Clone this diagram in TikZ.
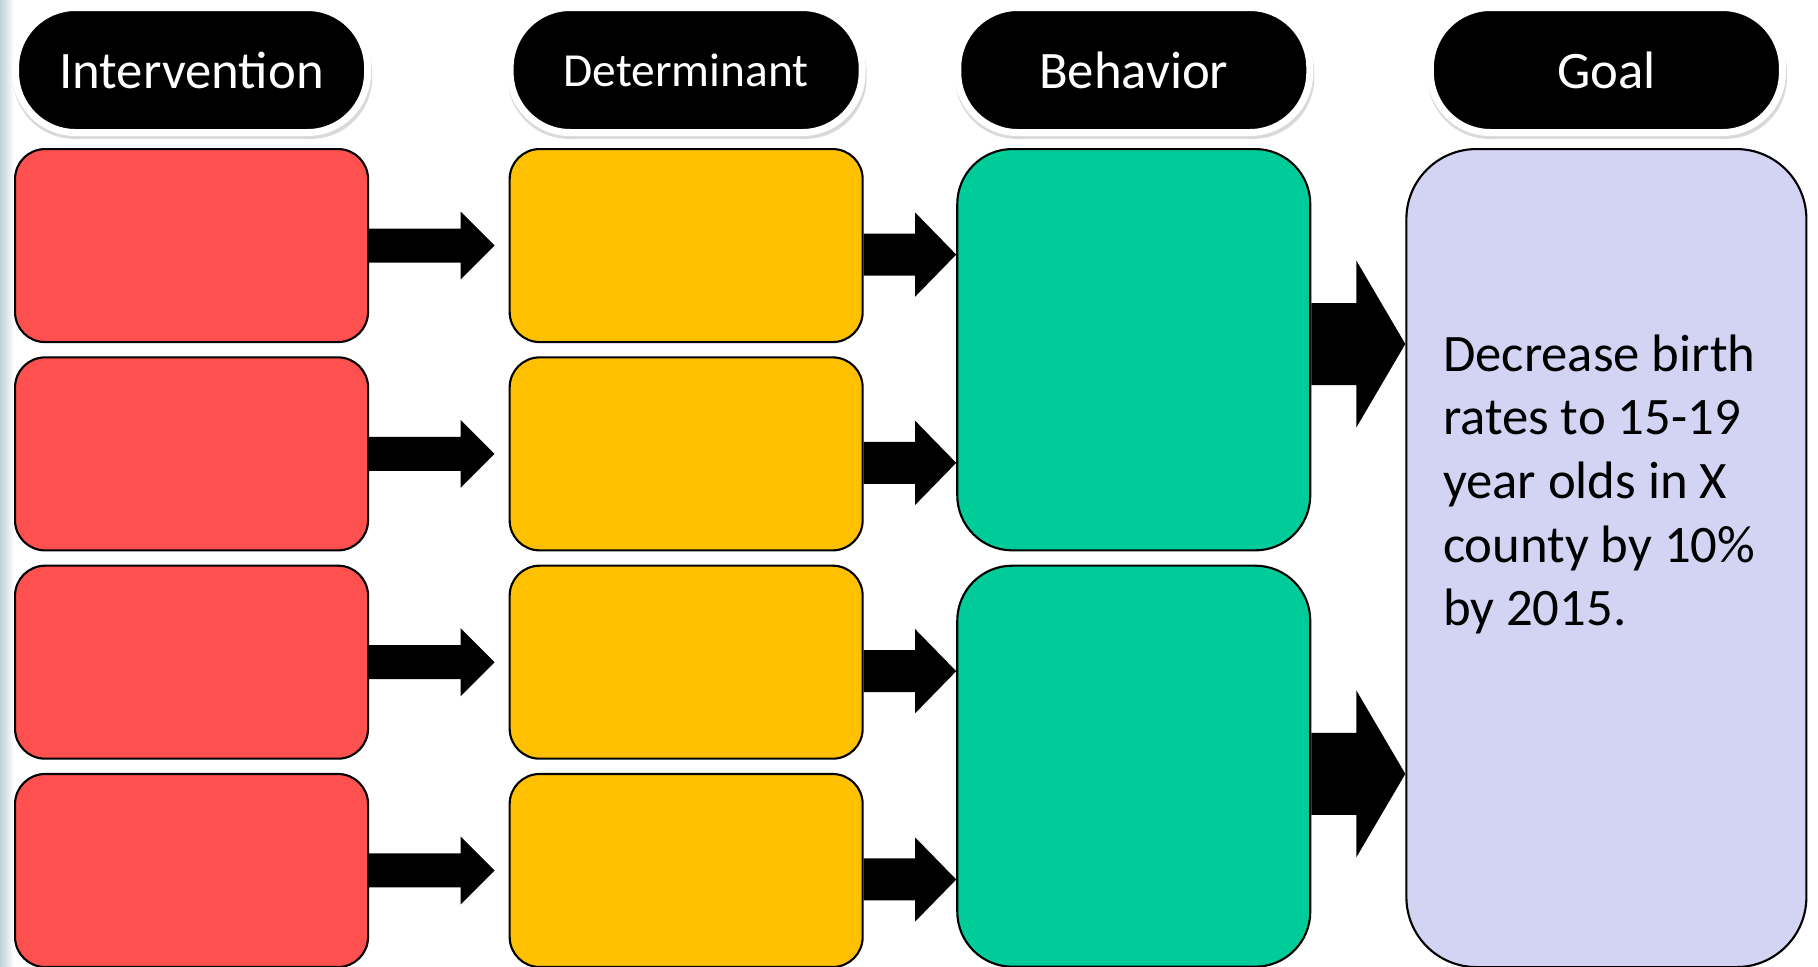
\documentclass[tikz,border=0pt]{standalone}
\usepackage{fontspec}
\setmainfont{Carlito}
\usepackage{tikz}
\usetikzlibrary{positioning,calc,shadows}
\definecolor{intred}{RGB}{255,80,80}
\definecolor{detyellow}{RGB}{255,192,0}
\definecolor{behgreen}{RGB}{0,204,153}
\definecolor{goallav}{RGB}{211,211,243}
\definecolor{slideblue}{RGB}{188,208,216}

% fat block arrow: from, to, yshift, shaft half, head half, head length, gap
\newcommand{\fatarrow}[7]{%
  \fill let \p1=(#1.east), \p2=(#2.west) in
    ({\x1},{\y1+#3+#4}) -- ({\x2-#7-#6},{\y1+#3+#4}) -- ({\x2-#7-#6},{\y1+#3+#5})
    -- ({\x2-#7},{\y1+#3}) -- ({\x2-#7-#6},{\y1+#3-#5}) -- ({\x2-#7-#6},{\y1+#3-#4})
    -- ({\x1},{\y1+#3-#4}) -- cycle;}

\begin{document}
\begin{tikzpicture}[
    headpill/.style={rectangle, rounded corners=0.6cm, fill=black, draw=white, line width=0.07cm, minimum width=3.52cm, minimum height=1.25cm, text=white, font=\fontsize{15}{18}\selectfont, drop shadow={shadow xshift=0.01cm, shadow yshift=-0.05cm, shadow scale=1.02, opacity=0.3}},
    smallbox/.style={rectangle, rounded corners=0.3cm, draw=black, line width=0.6pt, minimum width=3.53cm, minimum height=1.93cm},
    intbox/.style={smallbox, fill=intred},
    detbox/.style={smallbox, fill=detyellow},
    behbox/.style={rectangle, rounded corners=0.55cm, draw=black, line width=0.6pt, fill=behgreen, minimum width=3.53cm, anchor=north west},
    goalbox/.style={rectangle, rounded corners=0.7cm, draw=black, line width=0.6pt, fill=goallav, minimum width=4cm, minimum height=8.18cm, anchor=north west},
    goaltext/.style={align=left, inner sep=0pt, anchor=north west, font=\fontsize{15}{18.1}\selectfont}
]
    \useasboundingbox (0,0) rectangle (18.18,-9.66);
    \shade[left color=slideblue, right color=white] (0,0) rectangle (0.14,-9.66);

    % intervention and determinant rows
    \node[intbox, anchor=north west] (int1) at (0.14,-1.48) {};
    \node[intbox, below=0.132cm of int1] (int2) {};
    \node[intbox, below=0.132cm of int2] (int3) {};
    \node[intbox, below=0.132cm of int3] (int4) {};
    \node[detbox, right=1.395cm of int1] (det1) {};
    \node[detbox, right=1.395cm of int2] (det2) {};
    \node[detbox, right=1.395cm of int3] (det3) {};
    \node[detbox, right=1.395cm of int4] (det4) {};

    % behaviors and goal
    \node[behbox, minimum height=4.013cm] (beh1) at ($(det1.north east)+(0.925,0)$) {};
    \node[behbox, minimum height=4.01cm] (beh2) at ($(det3.north east)+(0.925,0)$) {};
    \node[goalbox] (goal) at ($(beh1.north east)+(0.94,0)$) {};
    \node[goaltext] (goaltxt) at ($(goal.north west)+(0.37,-1.86)$) {Decrease birth\\rates to 15-19\\year olds in X\\county by 10\%\\by 2015.};

    % column headers
    \node[headpill, above=0.12cm of int1] (hint) {Intervention};
    \node[headpill, above=0.12cm of det1, font=\fontsize{13.5}{16}\selectfont] (hdet) {Determinant};
    \node[headpill, above=0.12cm of beh1] (hbeh) {Behavior};
    \node[headpill, above=0.12cm of goal] (hgoal) {Goal};

    \fatarrow{int1}{det1}{0cm}{0.17cm}{0.34cm}{0.34cm}{0.14cm}
    \fatarrow{int2}{det2}{0cm}{0.17cm}{0.34cm}{0.34cm}{0.14cm}
    \fatarrow{int3}{det3}{0cm}{0.17cm}{0.34cm}{0.34cm}{0.14cm}
    \fatarrow{int4}{det4}{0cm}{0.17cm}{0.34cm}{0.34cm}{0.14cm}
    \fatarrow{det1}{beh1}{-0.09cm}{0.21cm}{0.42cm}{0.41cm}{0cm}
    \fatarrow{det2}{beh1}{-0.09cm}{0.21cm}{0.42cm}{0.41cm}{0cm}
    \fatarrow{det3}{beh2}{-0.09cm}{0.21cm}{0.42cm}{0.41cm}{0cm}
    \fatarrow{det4}{beh2}{-0.09cm}{0.21cm}{0.42cm}{0.41cm}{0cm}
    \fatarrow{beh1}{goal}{0.057cm}{0.41cm}{0.835cm}{0.49cm}{0cm}
    \fatarrow{beh2}{goal}{-0.077cm}{0.41cm}{0.835cm}{0.49cm}{0cm}
\end{tikzpicture}
\end{document}
